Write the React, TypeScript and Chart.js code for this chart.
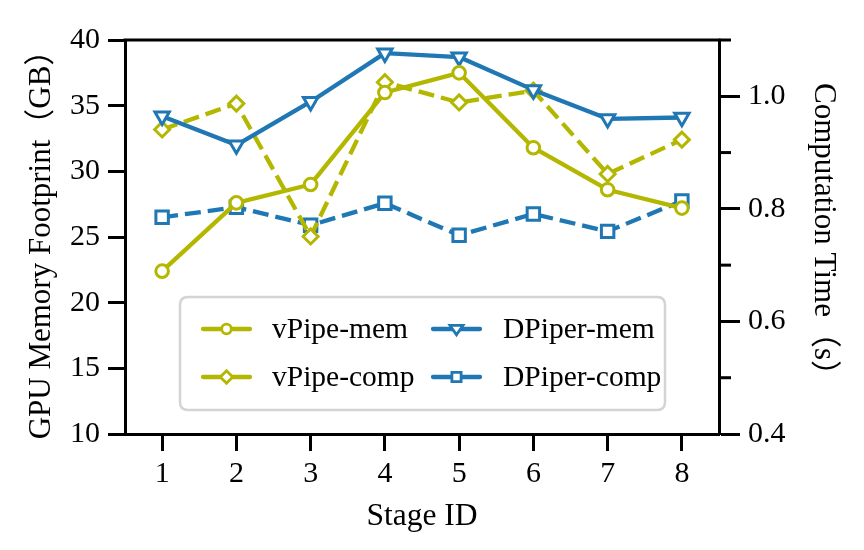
import React, { useEffect, useRef } from 'react';
import { Chart, registerables } from 'chart.js';

Chart.register(...registerables);

const stages = [1, 2, 3, 4, 5, 6, 7, 8];
const vPipeMem = [22.4, 27.6, 29.0, 36.0, 37.5, 31.8, 28.6, 27.2];
const dPiperMem = [34.2, 32.0, 35.3, 39.0, 38.7, 36.2, 34.0, 34.1];
const vPipeComp = [0.941, 0.987, 0.751, 1.025, 0.989, 1.01, 0.862, 0.923];
const dPiperComp = [0.785, 0.803, 0.771, 0.81, 0.753, 0.791, 0.76, 0.814];
const memTicks = [10, 15, 20, 25, 30, 35, 40];
const timeTicks = [0.4, 0.6, 0.8, 1.0];
const timeMinorTicks = [0.5, 0.7, 0.9, 1.1];
const seriesLabels = ['vPipe-mem', 'DPiper-mem', 'vPipe-comp', 'DPiper-comp'];

const OLIVE = '#b4b700';
const BLUE = '#1f77b4';
const FONT = "'Liberation Serif', 'Times New Roman', 'Noto Sans CJK SC', serif";

function drawMarker(ctx: CanvasRenderingContext2D, style: string, x: number, y: number, color: string) {
  ctx.save();
  ctx.fillStyle = '#fff';
  ctx.strokeStyle = color;
  ctx.lineWidth = 2.8;
  ctx.lineJoin = 'miter';
  ctx.beginPath();
  if (style === 'circle') {
    ctx.arc(x, y, 4.8, 0, Math.PI * 2);
  } else if (style === 'diamond') {
    const r = 6.2;
    ctx.moveTo(x - r, y);
    ctx.lineTo(x, y - r);
    ctx.lineTo(x + r, y);
    ctx.lineTo(x, y + r);
    ctx.closePath();
  } else if (style === 'tri') {
    const r = 6.5;
    ctx.moveTo(x - r, y - r * 0.55);
    ctx.lineTo(x + r, y - r * 0.55);
    ctx.lineTo(x, y + r * 0.9);
    ctx.closePath();
  } else {
    const s = 4.6;
    ctx.rect(x - s, y - s, 2 * s, 2 * s);
  }
  ctx.fill();
  ctx.stroke();
  ctx.restore();
}

const legendEntries = [
  { label: seriesLabels[0], color: OLIVE, marker: 'circle', col: 0, row: 0 },
  { label: seriesLabels[2], color: OLIVE, marker: 'diamond', col: 0, row: 1 },
  { label: seriesLabels[1], color: BLUE, marker: 'tri', col: 1, row: 0 },
  { label: seriesLabels[3], color: BLUE, marker: 'square', col: 1, row: 1 },
];

const framePlugin = {
  id: 'frameAndLegend',
  afterDraw(chart: any) {
    const { ctx, chartArea } = chart;
    const y1 = chart.scales.y1;
    ctx.save();
    ctx.strokeStyle = '#000';
    ctx.lineWidth = 3;
    ctx.beginPath();
    ctx.moveTo(chartArea.left - 1.5, chartArea.top);
    ctx.lineTo(chartArea.right + 1.5, chartArea.top);
    ctx.stroke();
    for (const v of timeMinorTicks) {
      const py = y1.getPixelForValue(v);
      ctx.beginPath();
      ctx.moveTo(chartArea.right, py);
      ctx.lineTo(chartArea.right + 12, py);
      ctx.stroke();
    }
    const bx = 180, by = 297, bw = 485, bh = 113, rr = 8;
    ctx.beginPath();
    ctx.moveTo(bx + rr, by);
    ctx.lineTo(bx + bw - rr, by);
    ctx.quadraticCurveTo(bx + bw, by, bx + bw, by + rr);
    ctx.lineTo(bx + bw, by + bh - rr);
    ctx.quadraticCurveTo(bx + bw, by + bh, bx + bw - rr, by + bh);
    ctx.lineTo(bx + rr, by + bh);
    ctx.quadraticCurveTo(bx, by + bh, bx, by + bh - rr);
    ctx.lineTo(bx, by + rr);
    ctx.quadraticCurveTo(bx, by, bx + rr, by);
    ctx.closePath();
    ctx.fillStyle = 'rgba(255,255,255,0.85)';
    ctx.fill();
    ctx.strokeStyle = '#d4d4d4';
    ctx.lineWidth = 2.5;
    ctx.stroke();

    const colX = [203, 433];
    const textX = [272, 503];
    const rowY = [329, 377];
    ctx.font = `29.5px ${FONT}`;
    ctx.textBaseline = 'middle';
    ctx.textAlign = 'left';
    for (const e of legendEntries) {
      const x0 = colX[e.col];
      const yy = rowY[e.row];
      ctx.strokeStyle = e.color;
      ctx.lineWidth = 4.3;
      ctx.lineCap = 'round';
      ctx.beginPath();
      ctx.moveTo(x0, yy);
      ctx.lineTo(x0 + 47, yy);
      ctx.stroke();
      drawMarker(ctx, e.marker, x0 + 23.5, yy, e.color);
      ctx.fillStyle = '#000';
      ctx.fillText(e.label, textX[e.col], yy + 1);
    }
    ctx.restore();
  },
};

export default function App() {
  const canvasRef = useRef<HTMLCanvasElement | null>(null);

  useEffect(() => {
    if (!canvasRef.current) return;
    const toPts = (arr: number[]) => stages.map((s, i) => ({ x: s, y: arr[i] }));
    const common = {
      borderWidth: 4.3,
      pointBackgroundColor: '#fff',
      pointBorderWidth: 3,
      pointHoverRadius: 6,
      borderJoinStyle: 'round' as const,
      tension: 0,
      fill: false,
    };
    const chart = new Chart(canvasRef.current, {
      type: 'line',
      data: {
        datasets: [
          {
            ...common,
            label: seriesLabels[0],
            data: toPts(vPipeMem),
            borderColor: OLIVE,
            pointBorderColor: OLIVE,
            pointStyle: 'circle',
            pointRadius: 6.3,
            yAxisID: 'y',
          },
          {
            ...common,
            label: seriesLabels[1],
            data: toPts(dPiperMem),
            borderColor: BLUE,
            pointBorderColor: BLUE,
            pointStyle: 'triangle',
            pointRotation: 180,
            pointRadius: 8.3,
            yAxisID: 'y',
          },
          {
            ...common,
            label: seriesLabels[2],
            data: toPts(vPipeComp),
            borderColor: OLIVE,
            pointBorderColor: OLIVE,
            pointStyle: 'rectRot',
            pointRadius: 7.5,
            borderDash: [16, 7],
            yAxisID: 'y1',
          },
          {
            ...common,
            label: seriesLabels[3],
            data: toPts(dPiperComp),
            borderColor: BLUE,
            pointBorderColor: BLUE,
            pointStyle: 'rect',
            pointRadius: 8.8,
            borderDash: [16, 7],
            yAxisID: 'y1',
          },
        ],
      },
      options: {
        responsive: false,
        animation: false,
        layout: { padding: { top: 40, left: 0, right: 0, bottom: 0 } },
        plugins: {
          legend: { display: false },
          tooltip: { enabled: false },
        },
        scales: {
          x: {
            type: 'linear',
            position: 'bottom',
            min: 0.5,
            max: 8.5,
            afterBuildTicks: (axis: any) => {
              axis.ticks = stages.map((v) => ({ value: v }));
            },
            afterFit: (axis: any) => {
              axis.height = 116;
            },
            grid: {
              drawOnChartArea: false,
              drawTicks: true,
              tickLength: 17,
              tickWidth: 3,
              tickColor: '#000',
            },
            border: { display: true, color: '#000', width: 3 },
            ticks: {
              color: '#000',
              font: { family: FONT, size: 30 },
              padding: 5,
              maxRotation: 0,
              callback: (v: any) => String(v),
            },
            title: {
              display: true,
              text: 'Stage ID',
              color: '#000',
              font: { family: FONT, size: 31.5 },
              padding: { top: 0, bottom: 14 },
            },
          },
          y: {
            type: 'linear',
            position: 'left',
            min: 10,
            max: 40,
            afterBuildTicks: (axis: any) => {
              axis.ticks = memTicks.map((v) => ({ value: v }));
            },
            afterFit: (axis: any) => {
              axis.width = 125;
            },
            grid: {
              drawOnChartArea: false,
              drawTicks: true,
              tickLength: 17,
              tickWidth: 3,
              tickColor: '#000',
            },
            border: { display: true, color: '#000', width: 3 },
            ticks: {
              color: '#000',
              font: { family: FONT, size: 30 },
              padding: 8,
              callback: (v: any) => String(v),
            },
            title: {
              display: true,
              text: 'GPU Memory Footprint（GB）',
              color: '#000',
              font: { family: FONT, size: 31 },
              padding: { top: 23, bottom: 0 },
            },
          },
          y1: {
            type: 'linear',
            position: 'right',
            min: 0.4,
            max: 1.1,
            afterBuildTicks: (axis: any) => {
              axis.ticks = timeTicks.map((v) => ({ value: v }));
            },
            afterFit: (axis: any) => {
              axis.width = 145;
            },
            grid: {
              drawOnChartArea: false,
              drawTicks: true,
              tickLength: 21,
              tickWidth: 3,
              tickColor: '#000',
            },
            border: { display: true, color: '#000', width: 3 },
            ticks: {
              color: '#000',
              font: { family: FONT, size: 30 },
              padding: 8,
              callback: (v: any) => Number(v).toFixed(1),
            },
            title: {
              display: true,
              text: 'Computation Time（s）',
              color: '#000',
              font: { family: FONT, size: 31 },
              padding: { top: 22, bottom: 0 },
            },
          },
        },
      },
      plugins: [framePlugin],
    });
    return () => chart.destroy();
  }, []);

  return (
    <div style={{ position: 'absolute', left: 0, top: 0, width: 864, height: 550, background: '#fff' }}>
      <canvas ref={canvasRef} width={864} height={550} style={{ display: 'block' }} />
    </div>
  );
}
